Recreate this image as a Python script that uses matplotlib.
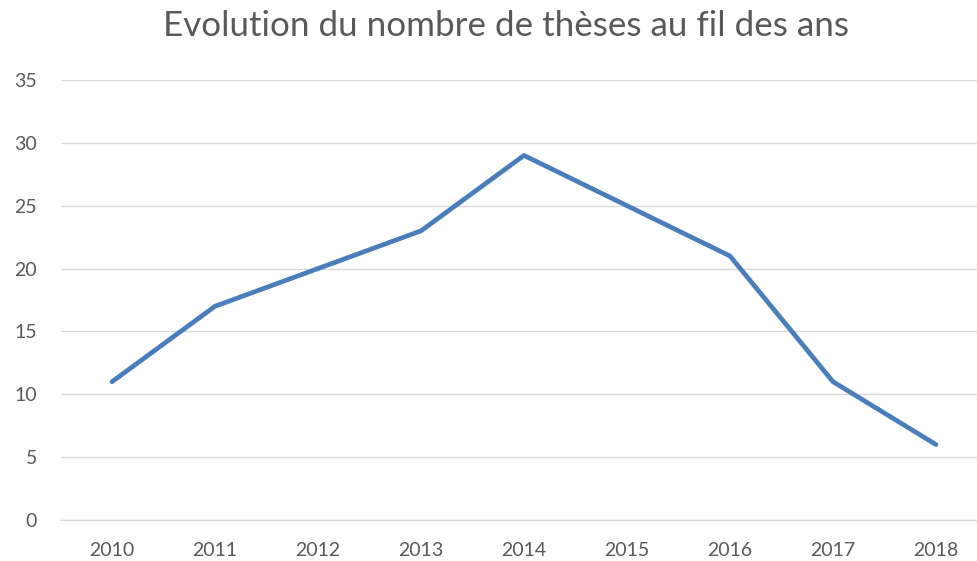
import matplotlib
matplotlib.use("Agg")
import matplotlib.pyplot as plt

years = ["2010", "2011", "2012", "2013", "2014", "2015", "2016", "2017", "2018"]
theses = [11, 17, 20, 23, 29, 25, 21, 11, 6]
yticks = [0, 5, 10, 15, 20, 25, 30, 35]

plt.rcParams['font.family'] = ['Lato', 'DejaVu Sans']

W, H = 977, 561
fig = plt.figure(figsize=(W / 100, H / 100), dpi=100)
left, right = 60.5, 977
top, bottom = 80, 520
ax = fig.add_axes([left / W, 1 - bottom / H, (right - left) / W, (bottom - top) / H])

x = list(range(len(years)))
ax.plot(x, theses, color="#4A7EBB", linewidth=3.4, solid_capstyle="round", solid_joinstyle="round", zorder=3)

ax.set_xlim(-0.5, (977 - 112) / 103)
ax.set_ylim(0, 35)
ax.set_yticks(yticks)
ax.set_xticks(x)
ax.set_xticklabels(years)
ax.grid(axis="y", color="#D9D9D9", linewidth=1)
ax.set_axisbelow(True)
for s in ["top", "right", "left"]:
    ax.spines[s].set_visible(False)
ax.spines["bottom"].set_color("#D9D9D9")
ax.tick_params(axis="both", length=0, labelsize=14, colors="#595959")
ax.tick_params(axis="y", pad=17)
ax.tick_params(axis="x", pad=16)

fig.text(506 / W, 1 - 26 / H, "Evolution du nombre de thèses au fil des ans",
         ha="center", va="center", fontsize=25.2, color="#595959")

fig.savefig("out.png", dpi=100)
